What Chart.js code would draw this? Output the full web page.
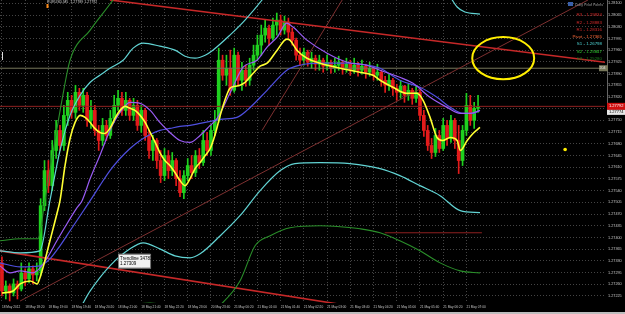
<!DOCTYPE html>
<html>
<head>
<meta charset="utf-8">
<script src="https://cdn.jsdelivr.net/npm/chart.js@4.4.0/dist/chart.umd.min.js"></script>
<style>
  html, body { margin: 0; padding: 0; background: #000; }
  #wrap { width: 625px; height: 314px; position: relative; }
</style>
</head>
<body>
<div id="wrap"><canvas id="chart"></canvas></div>
<script>
// EURUSD M5 candles (open = previous close)
const firstOpen = 1.27324;
const closes = [
  1.27240, 1.27255, 1.27234, 1.27261, 1.27246, 1.27294, 1.27276, 1.27306, 1.27288, 1.27300,
  1.27495, 1.27600, 1.27555, 1.27660, 1.27720, 1.27675, 1.27765, 1.27810, 1.27774, 1.27834,
  1.27795, 1.27825, 1.27750, 1.27780, 1.27720, 1.27690, 1.27735, 1.27705, 1.27756, 1.27795,
  1.27816, 1.27780, 1.27810, 1.27765, 1.27795, 1.27735, 1.27780, 1.27705, 1.27660, 1.27690,
  1.27630, 1.27585, 1.27645, 1.27600, 1.27630, 1.27576, 1.27534, 1.27585, 1.27615, 1.27594,
  1.27645, 1.27624, 1.27690, 1.27660, 1.27720, 1.27750, 1.27930, 1.27885, 1.27906, 1.27840,
  1.27945, 1.27870, 1.27900, 1.27870, 1.27915, 1.27945, 1.27975, 1.28005, 1.28026, 1.27996,
  1.28035, 1.28050, 1.28020, 1.28044, 1.28014, 1.27990, 1.27945, 1.27930, 1.27954, 1.27924,
  1.27936, 1.27918, 1.27930, 1.27912, 1.27924, 1.27906, 1.27915, 1.27924, 1.27906, 1.27918,
  1.27900, 1.27915, 1.27900, 1.27912, 1.27894, 1.27906, 1.27885, 1.27894, 1.27870, 1.27855,
  1.27870, 1.27846, 1.27834, 1.27852, 1.27825, 1.27840, 1.27816, 1.27834, 1.27765, 1.27720,
  1.27675, 1.27654, 1.27705, 1.27666, 1.27735, 1.27696, 1.27750, 1.27690, 1.27630, 1.27720,
  1.27795, 1.27750, 1.27786, 1.27792
];
const highs = [
  1.27342, 1.27270, 1.27261, 1.27276, 1.27270, 1.27324, 1.27306, 1.27324, 1.27315, 1.27324,
  1.27516, 1.27630, 1.27630, 1.27690, 1.27750, 1.27735, 1.27795, 1.27834, 1.27825, 1.27855,
  1.27846, 1.27846, 1.27834, 1.27810, 1.27795, 1.27735, 1.27756, 1.27750, 1.27780, 1.27825,
  1.27840, 1.27834, 1.27834, 1.27816, 1.27816, 1.27810, 1.27795, 1.27786, 1.27720, 1.27705,
  1.27696, 1.27660, 1.27666, 1.27660, 1.27654, 1.27636, 1.27600, 1.27600, 1.27636, 1.27645,
  1.27660, 1.27666, 1.27720, 1.27714, 1.27735, 1.27780, 1.27966, 1.27945, 1.27945, 1.27960,
  1.27966, 1.27954, 1.27924, 1.27915, 1.27936, 1.27975, 1.28005, 1.28035, 1.28050, 1.28035,
  1.28056, 1.28071, 1.28065, 1.28062, 1.28056, 1.28026, 1.27996, 1.27966, 1.27966, 1.27960,
  1.27954, 1.27945, 1.27945, 1.27936, 1.27945, 1.27930, 1.27936, 1.27942, 1.27930, 1.27936,
  1.27930, 1.27936, 1.27924, 1.27930, 1.27918, 1.27924, 1.27912, 1.27918, 1.27900, 1.27882,
  1.27888, 1.27876, 1.27858, 1.27870, 1.27855, 1.27858, 1.27846, 1.27852, 1.27840, 1.27780,
  1.27735, 1.27696, 1.27726, 1.27720, 1.27756, 1.27750, 1.27765, 1.27756, 1.27735, 1.27735,
  1.27831, 1.27825, 1.27804, 1.27825
];
const lows = [
  1.27225, 1.27216, 1.27210, 1.27225, 1.27216, 1.27240, 1.27255, 1.27264, 1.27261, 1.27270,
  1.27285, 1.27480, 1.27534, 1.27540, 1.27636, 1.27660, 1.27660, 1.27735, 1.27756, 1.27756,
  1.27780, 1.27774, 1.27732, 1.27726, 1.27705, 1.27660, 1.27675, 1.27690, 1.27696, 1.27744,
  1.27780, 1.27765, 1.27765, 1.27750, 1.27750, 1.27720, 1.27714, 1.27690, 1.27636, 1.27630,
  1.27606, 1.27564, 1.27570, 1.27576, 1.27585, 1.27555, 1.27522, 1.27516, 1.27570, 1.27576,
  1.27582, 1.27606, 1.27615, 1.27645, 1.27645, 1.27705, 1.27744, 1.27870, 1.27855, 1.27825,
  1.27834, 1.27855, 1.27840, 1.27852, 1.27855, 1.27900, 1.27930, 1.27945, 1.27984, 1.27975,
  1.27990, 1.28005, 1.28005, 1.28008, 1.27996, 1.27975, 1.27930, 1.27915, 1.27915, 1.27912,
  1.27906, 1.27900, 1.27900, 1.27894, 1.27900, 1.27891, 1.27894, 1.27900, 1.27888, 1.27894,
  1.27885, 1.27891, 1.27882, 1.27888, 1.27876, 1.27882, 1.27870, 1.27870, 1.27852, 1.27834,
  1.27840, 1.27825, 1.27810, 1.27816, 1.27804, 1.27810, 1.27798, 1.27804, 1.27750, 1.27702,
  1.27660, 1.27636, 1.27642, 1.27654, 1.27660, 1.27675, 1.27684, 1.27666, 1.27591, 1.27615,
  1.27705, 1.27735, 1.27726, 1.27774
];

// indicator lines: bar position and price of each traced vertex
const yellowAt = [0, 2.9, 4.7, 7.3, 9.1, 9.8, 10.6, 12.4, 14.2, 15, 16.3, 17.6, 18.9, 20.2, 21.5, 22.8, 24, 25.3, 26.6, 27.9, 29.2, 30.5, 31.8, 33.1, 34.4, 35.7, 37, 38.3, 39.6, 40.8, 42.1, 43.4, 44.7, 46, 47.3, 48.6, 49.9, 51.2, 52.5, 53.8, 55, 56.4, 57.6, 58.9, 60.2, 61.5, 62.8, 64.9, 66.7, 68.5, 71.1, 73.6, 74.4, 76.2, 78.8, 82.2, 87.4, 92.5, 95.9, 97.7, 101, 104.6, 107.2, 108.8, 110.6, 112.4, 113.9, 115.8, 117.6, 118.4, 120.2, 121.7, 123.5];
const yellowMA = [1.27234, 1.27240, 1.27261, 1.27270, 1.27261, 1.27279, 1.27309, 1.27390, 1.27471, 1.27510, 1.27615, 1.27696, 1.27744, 1.27765, 1.27759, 1.27744, 1.27726, 1.27714, 1.27711, 1.27726, 1.27756, 1.27780, 1.27792, 1.27786, 1.27780, 1.27765, 1.27744, 1.27714, 1.27684, 1.27654, 1.27630, 1.27615, 1.27594, 1.27570, 1.27555, 1.27576, 1.27606, 1.27624, 1.27645, 1.27666, 1.27705, 1.27765, 1.27810, 1.27846, 1.27852, 1.27855, 1.27864, 1.27891, 1.27912, 1.27921, 1.27960, 1.27993, 1.27990, 1.27960, 1.27936, 1.27921, 1.27906, 1.27894, 1.27885, 1.27870, 1.27849, 1.27831, 1.27831, 1.27810, 1.27759, 1.27699, 1.27690, 1.27699, 1.27690, 1.27660, 1.27690, 1.27711, 1.27729];

const purpleAt = [-0.5, 2.1, 4.7, 8, 9.8, 11.7, 14.2, 16.8, 19.4, 20.7, 22.8, 25.3, 27.9, 30.5, 33.1, 35.7, 38.3, 40.8, 43.4, 46, 48.6, 51.2, 53.8, 55.6, 58.9, 62.3, 65.9, 68.5, 71.1, 73.6, 75.2, 78.8, 84, 89.2, 94.3, 97.7, 102.8, 106.2, 110.6, 115, 118.4, 121, 123.5];
const purpleMA = [1.27315, 1.27294, 1.27300, 1.27294, 1.27309, 1.27339, 1.27390, 1.27441, 1.27489, 1.27510, 1.27576, 1.27645, 1.27720, 1.27774, 1.27804, 1.27801, 1.27780, 1.27744, 1.27714, 1.27690, 1.27684, 1.27705, 1.27735, 1.27756, 1.27831, 1.27909, 1.27930, 1.27969, 1.27999, 1.28041, 1.28029, 1.27990, 1.27951, 1.27924, 1.27915, 1.27900, 1.27879, 1.27861, 1.27819, 1.27789, 1.27771, 1.27771, 1.27780];

const blueAt = [-0.5, 4.7, 9.8, 12.4, 15, 17.6, 20.2, 22.8, 25.3, 27.9, 30.5, 33.1, 35.7, 38.3, 40.8, 43.4, 46, 48.6, 51.2, 53.8, 56.4, 60.7, 63.3, 68.5, 73.6, 77, 82.2, 89.2, 94.3, 97.7, 102.8, 108, 112.4, 115.8, 119.1, 121.7, 123.5];
const blueMA = [1.27324, 1.27312, 1.27315, 1.27336, 1.27375, 1.27420, 1.27465, 1.27510, 1.27555, 1.27600, 1.27636, 1.27666, 1.27690, 1.27708, 1.27720, 1.27726, 1.27732, 1.27735, 1.27741, 1.27747, 1.27753, 1.27759, 1.27780, 1.27840, 1.27900, 1.27915, 1.27921, 1.27921, 1.27915, 1.27906, 1.27870, 1.27849, 1.27819, 1.27789, 1.27771, 1.27771, 1.27780];

const upperCyanAt = [-0.5, 4.7, 9.8, 12.4, 15, 17.6, 20.2, 22.8, 25.3, 27.9, 31.3, 33.9, 36.5, 40.8, 44.7, 47.3, 49.9, 52.5, 54.5, 58.9, 62.8, 67.2, 71.9, 82.2, 97.7, 110.6, 115.8, 117.6, 119.6, 123.5];
const upperCyan = [1.27360, 1.27354, 1.27360, 1.27510, 1.27660, 1.27765, 1.27825, 1.27864, 1.27885, 1.27906, 1.27930, 1.27966, 1.27981, 1.27972, 1.27960, 1.27942, 1.27936, 1.27945, 1.27960, 1.28005, 1.28050, 1.28110, 1.28185, 1.28245, 1.28245, 1.28185, 1.28119, 1.28089, 1.28074, 1.28068];
const lowerCyanAt = [-0.5, 9.8, 15, 19.7, 22.8, 27.9, 33.1, 36.5, 40.8, 44.7, 48.6, 51.2, 56.4, 61.5, 66.7, 71.9, 75.7, 82.2, 89.9, 97.7, 102.8, 108, 113.2, 118.4, 123.5];
const lowerCyan = [1.27120, 1.27105, 1.27120, 1.27180, 1.27240, 1.27315, 1.27366, 1.27384, 1.27366, 1.27345, 1.27339, 1.27351, 1.27405, 1.27465, 1.27540, 1.27600, 1.27621, 1.27624, 1.27621, 1.27606, 1.27585, 1.27555, 1.27525, 1.27480, 1.27474];

const upperGreenAt = [-0.5, 4.7, 9.3, 11.1, 13.7, 15.5, 17.6, 22.8, 28.7, 33.1, 51.2, 71.9, 102.8, 123.5];
const upperGreen = [1.27390, 1.27396, 1.27396, 1.27510, 1.27690, 1.27810, 1.27930, 1.28020, 1.28110, 1.28185, 1.28245, 1.28410, 1.28350, 1.28260];
const lowerGreenAt = [-0.5, 25.3, 33.1, 38.3, 43.4, 51.2, 55.6, 61.5, 65.4, 69.3, 74.4, 82.2, 87.4, 92.5, 97.7, 102.8, 108, 113.2, 118.4, 123.5];
const lowerGreen = [1.27075, 1.27120, 1.27192, 1.27204, 1.27192, 1.27150, 1.27189, 1.27270, 1.27375, 1.27405, 1.27429, 1.27435, 1.27432, 1.27426, 1.27414, 1.27390, 1.27360, 1.27324, 1.27300, 1.27294];

// drawn objects: [bar, price] end points
const resistanceLine = [[27.9, 1.28110], [155.8, 1.27924]];
const supportLine = [[-0.5, 1.27360], [95.1, 1.27186]];
const thinLineA = [[4.7, 1.27210], [151.4, 1.28110]];
const thinLineB = [[67.2, 1.27720], [87.9, 1.28110]];
const greyLevel = 1.27906;
const lowLevel = 1.27414, lowLevelFrom = 98.9;
const askLevel = 1.27774;
const circleAt = [129.5, 1.27936], circleSize = [8, 0.00063];
const dotAt = [145.5, 1.27663];
const trendTipAt = [30, 1.27351];

const priceTicks = [1.28100, 1.28065, 1.28030, 1.27995, 1.27960, 1.27925, 1.27890, 1.27855, 1.27820, 1.27785,
  1.27750, 1.27715, 1.27680, 1.27645, 1.27610, 1.27575, 1.27540, 1.27505, 1.27470, 1.27435,
  1.27400, 1.27365, 1.27330, 1.27295, 1.27260, 1.27225];
const timeTickAt = [0, 6, 12, 18, 24, 30, 36, 42, 48, 54, 60, 66, 72, 78, 84, 90, 96, 102, 108, 114, 120];
const timeTicks = ["18 May 2012", "18 May 18:20", "18 May 19:00", "18 May 19:40", "18 May 20:20", "18 May 21:00",
  "18 May 21:40", "18 May 22:20", "18 May 23:00", "20 May 23:40", "21 May 00:20", "21 May 01:00", "21 May 01:40",
  "21 May 02:20", "21 May 03:00", "21 May 03:40", "21 May 04:20", "21 May 05:00", "21 May 05:40", "21 May 06:20",
  "21 May 07:00"];
const pivotNames = ["R3", "R2", "R1", "Pivot", "S1", "S2", "S3"];
const pivotValues = ["1.29834", "1.28883", "1.28316", "1.27365", "1.26798", "1.25847", "1.25280"];
const pivotColors = ["#d42a2a", "#d42a2a", "#d42a2a", "#ff6a3a", "#4fd8d8", "#2fd12f", "#1b7a1b"];

const xMin = -0.5, xMax = 155.8;
const yMin = 1.27204, yMax = 1.28110;

const opens = closes.map((c, i) => (i === 0 ? firstOpen : closes[i - 1]));
const candleColors = closes.map((c, i) => (c >= opens[i] ? "#1fd11f" : "#e31b1b"));

function pts(at, vals) {
  return at.map((x, k) => ({ x: x, y: vals[k] }));
}
function seg(p) {
  return [{ x: p[0][0], y: p[0][1] }, { x: p[1][0], y: p[1][1] }];
}
function line(data, color, width, order, smooth) {
  return {
    type: "line", data: data, borderColor: color, borderWidth: width,
    pointRadius: 0, order: order, cubicInterpolationMode: smooth ? "monotone" : "default", tension: 0
  };
}

const lastClose = closes[closes.length - 1];

const overlay = {
  id: "overlay",
  afterDatasetsDraw(chart) {
    const ctx = chart.ctx, xs = chart.scales.x, ys = chart.scales.y;
    ctx.save();
    // yellow circle
    const cx = xs.getPixelForValue(circleAt[0]), cy = ys.getPixelForValue(circleAt[1]);
    const rx = xs.getPixelForValue(circleAt[0] + circleSize[0]) - cx;
    const ry = cy - ys.getPixelForValue(circleAt[1] + circleSize[1]);
    ctx.strokeStyle = "#ffee00";
    ctx.lineWidth = 2;
    ctx.beginPath();
    ctx.ellipse(cx, cy, rx, ry, 0, 0, Math.PI * 2);
    ctx.stroke();
    // yellow dot
    ctx.fillStyle = "#ffee00";
    ctx.beginPath();
    ctx.arc(xs.getPixelForValue(dotAt[0]), ys.getPixelForValue(dotAt[1]), 1.8, 0, Math.PI * 2);
    ctx.fill();
    // trendline tooltip
    const tx = xs.getPixelForValue(trendTipAt[0]), ty = ys.getPixelForValue(trendTipAt[1]);
    ctx.fillStyle = "#f2f2f2";
    ctx.fillRect(tx, ty, 32, 14);
    ctx.strokeStyle = "#7a7a7a";
    ctx.lineWidth = 1;
    ctx.strokeRect(tx + 0.5, ty + 0.5, 32, 14);
    ctx.fillStyle = "#000";
    ctx.font = "4.5px 'Liberation Sans'";
    ctx.textBaseline = "middle";
    ctx.fillText("Trendline 34781", tx + 2, ty + 4.5);
    ctx.fillText("1.27309", tx + 2, ty + 10);
    ctx.restore();
  },
  afterDraw(chart) {
    const ctx = chart.ctx, a = chart.chartArea, ys = chart.scales.y;
    ctx.save();
    ctx.textBaseline = "middle";
    // header
    ctx.font = "3.6px 'Liberation Sans'";
    ctx.fillStyle = "#cfcfcf";
    ctx.fillText("EURUSD,M5  1.27789 1.27792", 47, 2);
    ctx.fillStyle = "#ff8c1a";
    ctx.fillRect(46.5, 4, 2, 4);
    ctx.fillStyle = "#dddddd";
    ctx.fillRect(2, 52, 1, 8);
    // pivot panel
    ctx.fillStyle = "#3a5fa8";
    ctx.fillRect(a.right - 37, 2, 5, 4);
    ctx.fillStyle = "#9a9a9a";
    ctx.font = "3.6px 'Liberation Sans'";
    ctx.fillText("Daily Pivot Points", a.right - 30, 5);
    ctx.textAlign = "right";
    ctx.font = "4.4px 'Liberation Sans'";
    pivotNames.forEach((n, k) => {
      ctx.fillStyle = pivotColors[k];
      ctx.fillText(n + " - " + pivotValues[k], a.right - 3, 15 + k * 7.3);
    });
    ctx.textAlign = "left";
    ctx.strokeStyle = "#666";
    ctx.lineWidth = 1;
    ctx.beginPath();
    ctx.moveTo(a.right + 2.5, 0);
    ctx.lineTo(a.right + 2.5, 110);
    ctx.stroke();
    // level tag on grey line
    const gy = ys.getPixelForValue(greyLevel);
    ctx.fillStyle = "#77775a";
    ctx.fillRect(a.right - 6, gy - 3, 9, 6);
    ctx.fillStyle = "#e0e0e0";
    ctx.font = "3.6px 'Liberation Sans'";
    ctx.fillText("204", a.right - 5.5, gy);
    // price boxes on axis
    const by = ys.getPixelForValue(lastClose);
    ctx.fillStyle = "#d01010";
    ctx.fillRect(a.right + 2, by - 3.5, 18, 7);
    ctx.fillStyle = "#ffffff";
    ctx.font = "4px 'Liberation Sans'";
    ctx.fillText(lastClose.toFixed(5), a.right + 4, by);
    const ay = ys.getPixelForValue(askLevel);
    ctx.fillStyle = "#e8e8e8";
    ctx.fillRect(a.right + 2, ay - 2.5, 18, 5);
    ctx.fillStyle = "#000";
    ctx.fillText(askLevel.toFixed(5), a.right + 4, ay);
    // window edge
    ctx.fillStyle = "#bdbdbd";
    ctx.fillRect(0, 312, 625, 2);
    ctx.restore();
  }
};

Chart.defaults.font.family = "'Liberation Sans', Arial, sans-serif";

new Chart(document.getElementById("chart"), {
  type: "bar",
  data: {
    datasets: [
      line(pts(yellowAt, yellowMA), "#ffff33", 1.6, 1, true),
      line(pts(purpleAt, purpleMA), "#9a5cf5", 1.2, 2, true),
      line(pts(blueAt, blueMA), "#4f4fe0", 1.2, 3, true),
      line(pts(upperCyanAt, upperCyan), "#62d4d4", 1.2, 4, true),
      line(pts(lowerCyanAt, lowerCyan), "#62d4d4", 1.2, 4, true),
      line(pts(upperGreenAt, upperGreen), "#2a8f2a", 1.1, 5, true),
      line(pts(lowerGreenAt, lowerGreen), "#2a8f2a", 1.1, 5, true),
      line(seg(resistanceLine), "#c62828", 1.6, 8, false),
      line(seg(supportLine), "#c62828", 1.6, 8, false),
      line(seg(thinLineA), "#7e3030", 1, 9, false),
      line(seg(thinLineB), "#7e3030", 1, 9, false),
      line([{ x: xMin, y: greyLevel }, { x: xMax, y: greyLevel }], "#77775a", 1, 12, false),
      line([{ x: xMin, y: lastClose }, { x: xMax, y: lastClose }], "#8e2020", 1, 12, false),
      line([{ x: lowLevelFrom, y: lowLevel }, { x: closes.length, y: lowLevel }], "#8e2020", 1, 12, false),
      {
        data: highs.map((h, i) => ({ x: i, y: [lows[i], h] })),
        backgroundColor: candleColors, barThickness: 1, grouped: false, order: 20
      },
      {
        data: closes.map((c, i) => ({ x: i, y: [opens[i], c] })),
        backgroundColor: candleColors, barThickness: 3, grouped: false, minBarLength: 1, order: 19
      }
    ]
  },
  options: {
    responsive: true,
    maintainAspectRatio: false,
    animation: false,
    layout: { padding: 0 },
    plugins: { legend: { display: false }, tooltip: { enabled: false } },
    scales: {
      x: {
        type: "linear", min: xMin, max: xMax, offset: false,
        grid: { color: "#444444", drawTicks: false, offset: false },
        border: { display: false, dash: [1, 2] },
        ticks: {
          color: "#c4c4c4", font: { size: 3.2 }, align: "start", padding: 2,
          maxRotation: 0, autoSkip: false,
          callback: (v) => timeTicks[timeTickAt.indexOf(v)]
        },
        afterBuildTicks: (s) => { s.ticks = timeTickAt.map((v) => ({ value: v })); },
        afterFit: (s) => { s.height = 11; s.paddingLeft = 0; s.paddingRight = 0; }
      },
      y: {
        type: "linear", position: "right", min: yMin, max: yMax,
        grid: { color: "#444444", drawTicks: false },
        border: { display: false, dash: [1, 2] },
        ticks: { color: "#c4c4c4", font: { size: 3.8 }, padding: 3, callback: (v) => v.toFixed(5) },
        afterBuildTicks: (s) => { s.ticks = priceTicks.map((v) => ({ value: v })); },
        afterFit: (s) => { s.width = 20; s.paddingTop = 0; s.paddingBottom = 0; }
      }
    }
  },
  plugins: [overlay]
});
</script>
</body>
</html>
